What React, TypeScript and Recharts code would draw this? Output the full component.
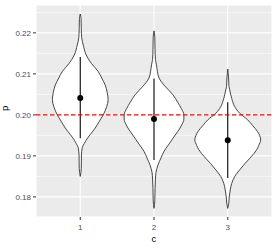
import React from "react";
import {
  ComposedChart,
  Area,
  Scatter,
  ErrorBar,
  XAxis,
  YAxis,
  ZAxis,
  CartesianGrid,
  ReferenceLine,
} from "recharts";

// Categories (c) and tick labels
const categories = [1, 2, 3];
const yTicks = [0.18, 0.19, 0.2, 0.21, 0.22];
const yMinor = [0.175, 0.185, 0.195, 0.205, 0.215, 0.225];

// Violin outlines: p values (top to bottom) and half-widths (in category units)
const violin1P = [0.2246, 0.2235, 0.221, 0.2188, 0.217, 0.2146, 0.2126, 0.2106, 0.209, 0.2073, 0.2055, 0.2037, 0.202, 0.2, 0.1984, 0.1968, 0.1952, 0.1944, 0.193, 0.192, 0.19, 0.187, 0.185];
const violin1W = [0, 0.011, 0.014, 0.02, 0.041, 0.081, 0.149, 0.243, 0.291, 0.338, 0.365, 0.378, 0.358, 0.311, 0.257, 0.203, 0.135, 0.101, 0.054, 0.027, 0.016, 0.014, 0];

const violin2P = [0.2205, 0.219, 0.216, 0.2135, 0.2122, 0.2105, 0.209, 0.207, 0.2049, 0.203, 0.2015, 0.2, 0.199, 0.1976, 0.196, 0.1943, 0.1927, 0.1911, 0.1895, 0.1878, 0.186, 0.1846, 0.182, 0.179, 0.1772];
const violin2W = [0, 0.011, 0.014, 0.02, 0.034, 0.047, 0.068, 0.149, 0.257, 0.324, 0.372, 0.405, 0.405, 0.378, 0.324, 0.257, 0.196, 0.135, 0.095, 0.054, 0.027, 0.02, 0.014, 0.011, 0];

const violin3P = [0.2112, 0.209, 0.207, 0.2061, 0.204, 0.202, 0.2004, 0.1988, 0.1974, 0.1959, 0.1939, 0.1925, 0.1915, 0.1898, 0.1882, 0.1866, 0.185, 0.1833, 0.1817, 0.18, 0.1785, 0.1772];
const violin3W = [0, 0.011, 0.016, 0.027, 0.054, 0.095, 0.162, 0.27, 0.338, 0.405, 0.446, 0.419, 0.392, 0.318, 0.236, 0.162, 0.095, 0.054, 0.034, 0.02, 0.014, 0];

// Point estimates and interval bounds
const means = [0.2041, 0.199, 0.1938];
const lowers = [0.1943, 0.189, 0.1846];
const uppers = [0.2141, 0.2089, 0.2031];

const refValue = 0.2;

const buildViolin = (c: number, ps: number[], ws: number[]) =>
  ps.map((p, i) => ({ p, r: [c - ws[i], c + ws[i]] }));

const violins = [
  buildViolin(categories[0], violin1P, violin1W),
  buildViolin(categories[1], violin2P, violin2W),
  buildViolin(categories[2], violin3P, violin3W),
];

const pointData = categories.map((c, i) => ({
  x: c,
  p: means[i],
  err: [means[i] - lowers[i], uppers[i] - means[i]],
}));

const FONT = "'Liberation Sans', Arial, sans-serif";

export default function App() {
  return (
    <div style={{ position: "absolute", left: 0, top: 0 }}>
      <ComposedChart
        width={277}
        height={249}
        layout="vertical"
        margin={{ top: 5, right: 5, bottom: 0, left: 0 }}
      >
        <CartesianGrid
          fill="#EBEBEB"
          stroke="#FFFFFF"
          strokeWidth={0.55}
          vertical={false}
          horizontalValues={yMinor}
        />
        <CartesianGrid stroke="#FFFFFF" strokeWidth={1.1} fill="none" />
        <XAxis
          type="number"
          dataKey="x"
          domain={[0.4, 3.6]}
          ticks={categories}
          allowDataOverflow
          axisLine={false}
          tickLine={{ stroke: "#333333" }}
          tickSize={3}
          tickMargin={4}
          height={32}
          tick={{ fill: "#4D4D4D", fontSize: 8, fontFamily: FONT }}
          label={{ value: "c", position: "insideBottom", offset: 7, fill: "#000", fontSize: 9.6, fontFamily: FONT }}
        />
        <YAxis
          type="number"
          dataKey="p"
          domain={[0.1751, 0.2268]}
          ticks={yTicks}
          reversed
          allowDataOverflow
          axisLine={false}
          tickLine={{ stroke: "#333333" }}
          tickSize={3}
          tickMargin={2}
          width={36}
          tickFormatter={(v: number) => v.toFixed(2)}
          tick={{ fill: "#4D4D4D", fontSize: 8, fontFamily: FONT }}
          label={{ value: "p", angle: -90, position: "insideLeft", offset: 5, fill: "#000", fontSize: 9.6, fontFamily: FONT }}
        />
        <ZAxis range={[28, 28]} />
        {violins.map((d, i) => (
          <Area
            key={i}
            data={d}
            dataKey="r"
            type="monotone"
            stroke="#333333"
            strokeWidth={0.9}
            fill="#FFFFFF"
            fillOpacity={1}
            dot={false}
            activeDot={false}
            isAnimationActive={false}
          />
        ))}
        <Scatter data={pointData} dataKey="p" fill="#000000" isAnimationActive={false}>
          <ErrorBar dataKey="err" direction="y" width={0} stroke="#000000" strokeWidth={1.1} />
        </Scatter>
        <ReferenceLine y={refValue} stroke="#FF0000" strokeDasharray="4.5 2.5" strokeWidth={1.1} />
      </ComposedChart>
    </div>
  );
}
